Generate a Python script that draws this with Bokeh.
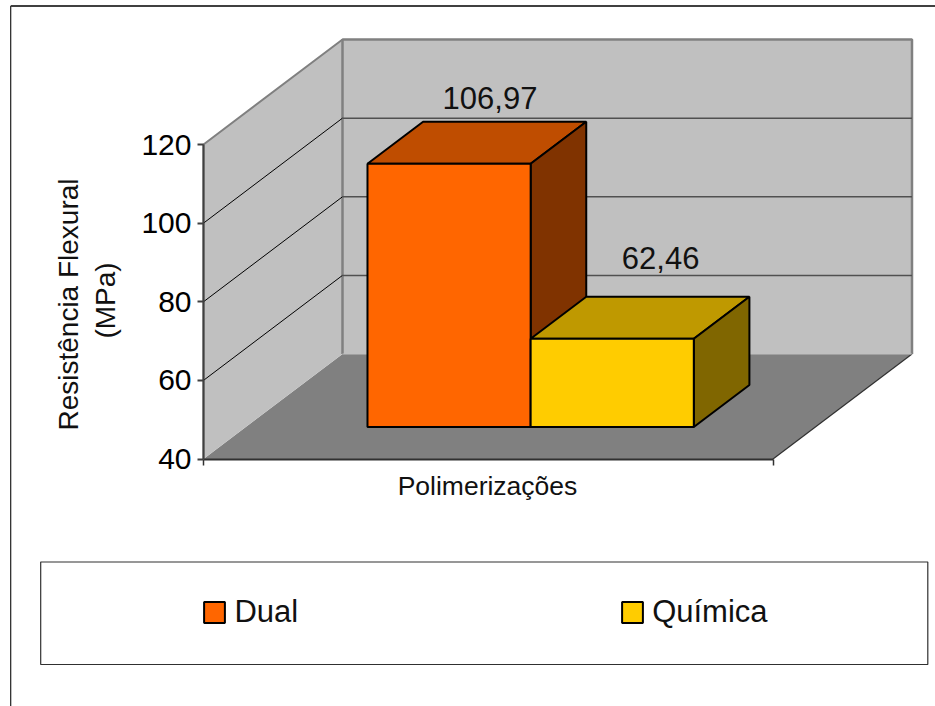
import math
from bokeh.core.properties import value
from bokeh.embed import file_html
from bokeh.models import (FixedTicker, Legend, LegendItem, LinearAxis, Range1d)
from bokeh.plotting import figure
from bokeh.resources import INLINE

# ---- data
series = ["Dual", "Química"]
values = [106.97, 62.46]
value_labels = ["106,97", "62,46"]
y_ticks = [40, 60, 80, 100, 120]
y_title = ["Resistência Flexural", "(MPa)"]
x_title = "Polimerizações"

front_colors = ["#FF6600", "#FFCC00"]
top_colors = ["#BF4D00", "#BF9900"]
side_colors = ["#803300", "#806600"]

# ---- layout of the pseudo-3D box (page pixels)
W, H = 935, 706
X0, X1 = 203, 772.5         # front edge of the floor
Y_40, Y_120 = 458.5, 144    # front plane, value axis
DX, DY = 139, 105           # oblique shift from front to back of the box
YMIN, YMAX = y_ticks[0], y_ticks[-1]
PX_PER_UNIT = (Y_40 - Y_120) / (YMAX - YMIN)
BAR_WIDTH_FRAC = 0.2865     # bar width as a share of the category band
D_FRONT, D_BACK = 0.305, 0.705  # depth span of the bars, 0 front .. 1 back


def px(u):
    return X0 + (X1 - X0) * u


def proj(u, v, d):
    """band position u, value v, depth d -> chart coordinates"""
    return px(u) + DX * d, v + d * DY / PX_PER_UNIT


p = figure(width=W, height=H, output_backend="svg", toolbar_location=None,
           x_range=Range1d(0, W),
           y_range=Range1d(YMIN - (H - Y_40) / PX_PER_UNIT, YMIN + Y_40 / PX_PER_UNIT),
           x_axis_location=None, y_axis_location=None,
           min_border=0, min_border_left=0, min_border_right=0,
           min_border_top=0, min_border_bottom=0,
           outline_line_color=None, background_fill_color="white",
           border_fill_color="white", margin=(0, 0, 0, 0))
p.grid.visible = False
p.extra_y_ranges = {"px": Range1d(H, 0)}

DARK = "#404040"
GREY = "#808080"
WALL = "#C0C0C0"

# page frame and legend box
p.segment([10.2], [5.5], [10.2], [H], y_range_name="px", line_color="#202020", line_width=1.2)
p.segment([10.2], [5.5], [W], [5.5], y_range_name="px", line_color=DARK, line_width=2)
p.quad(left=[40.2], right=[927.3], top=[561.5], bottom=[664], y_range_name="px",
       fill_color="white", line_color="#303030", line_width=1.2)

# walls and floor
corner = lambda u, v, d: proj(u, v, d)
side = [corner(0, YMIN, 0), corner(0, YMAX, 0), corner(0, YMAX, 1), corner(0, YMIN, 1)]
back = [corner(0, YMIN, 1), corner(0, YMAX, 1), corner(1, YMAX, 1), corner(1, YMIN, 1)]
floor = [corner(0, YMIN, 0), corner(1, YMIN, 0), corner(1, YMIN, 1), corner(0, YMIN, 1)]
p.patch(*zip(*floor), fill_color=GREY, line_color=None)
p.patch(*zip(*side), fill_color=WALL, line_color=None)
p.patch(*zip(*back), fill_color=WALL, line_color=None)
p.line(*zip(side[0], side[1], side[2]), line_color=GREY, line_width=2)
p.line(*zip(back[0], back[1], back[2], back[3]), line_color=GREY, line_width=2.5)
p.line(*zip(corner(1, YMIN, 0), corner(1, YMIN, 1)), line_color="#303030", line_width=1.2)

# gridlines
for t in y_ticks[1:-1]:
    a, b, c = corner(0, t, 0), corner(0, t, 1), corner(1, t, 1)
    p.line(*zip(a, b), line_color="black", line_width=1)
    p.line(*zip(b, c), line_color="#505050", line_width=1.5)
p.line(*zip(corner(0, YMIN, 1), corner(1, YMIN, 1)), line_color=WALL, line_width=1)

# bars
start = (1 - 2 * BAR_WIDTH_FRAC) / 2
front_renderers = []
for i, v in enumerate(values):
    u0 = start + i * BAR_WIDTH_FRAC
    u1 = u0 + BAR_WIDTH_FRAC
    top = [proj(u0, v, D_FRONT), proj(u1, v, D_FRONT), proj(u1, v, D_BACK), proj(u0, v, D_BACK)]
    right = [proj(u1, YMIN, D_FRONT), proj(u1, v, D_FRONT), proj(u1, v, D_BACK), proj(u1, YMIN, D_BACK)]
    p.patch(*zip(*top, top[0]), fill_color=top_colors[i], line_color="black", line_width=2)
    p.patch(*zip(*right, right[0]), fill_color=side_colors[i], line_color="black", line_width=2)
    fl, fb = proj(u0, YMIN, D_FRONT)
    fr, ft = proj(u1, v, D_FRONT)
    front_renderers.append(p.quad(left=[fl], right=[fr], top=[ft], bottom=[fb],
                                  fill_color=front_colors[i], line_color="black", line_width=2))

# value labels above the bars
label_dx = [122.5, 130]
label_dy = [66, 81]
lab_x, lab_y = [], []
for i, v in enumerate(values):
    x0, y0 = proj(start + i * BAR_WIDTH_FRAC, v, D_FRONT)
    lab_x.append(x0 + label_dx[i])
    lab_y.append(y0 + label_dy[i] / PX_PER_UNIT)
p.text(lab_x, lab_y, text=value_labels, text_align="center", text_baseline="alphabetic",
       text_font=value("Liberation Sans"), text_font_size="31px", text_color="#111111")

# axes
yax = LinearAxis(fixed_location=X0, ticker=FixedTicker(ticks=y_ticks), bounds=(YMIN, YMAX),
                 major_tick_in=0, major_tick_out=6, minor_tick_out=0, minor_tick_in=0,
                 axis_line_color=DARK, axis_line_width=2, major_tick_line_color=DARK,
                 major_tick_line_width=2, major_label_standoff=6,
                 major_label_text_font="Liberation Sans", major_label_text_font_size="30px",
                 major_label_text_color="black")
p.add_layout(yax, "left")
xax = LinearAxis(fixed_location=YMIN, ticker=FixedTicker(ticks=[X0, X1]), bounds=(X0, X1),
                 major_tick_in=0, major_tick_out=6, minor_tick_out=0, minor_tick_in=0,
                 axis_line_color="#303030", axis_line_width=2, major_tick_line_color="#303030",
                 major_tick_line_width=1.5, major_label_overrides={X0: "", X1: ""})
p.add_layout(xax, "below")

# axis titles
p.text([487], [485], text=[x_title], y_range_name="px", text_align="center",
       text_baseline="alphabetic", text_font=value("Liberation Sans"),
       text_font_size="26.5px", text_color="#111111")
p.text([68, 105], [304, 300], text=y_title, y_range_name="px", angle=math.pi / 2,
       text_align="center", text_baseline="middle", text_font=value("Liberation Sans"),
       text_font_size="28px", text_color="#111111")

# legend
legend = Legend(items=[LegendItem(label=s, renderers=[r]) for s, r in zip(series, front_renderers)],
                orientation="horizontal", location=(201.4, 76), padding=0, margin=0,
                spacing=321, glyph_width=26, glyph_height=26, label_standoff=7,
                border_line_color=None, background_fill_color=None, background_fill_alpha=0,
                label_text_font="Liberation Sans", label_text_font_size="31px",
                label_text_color="#111111")
p.add_layout(legend, "center")

open("out.html", "w").write(file_html(p, INLINE))
